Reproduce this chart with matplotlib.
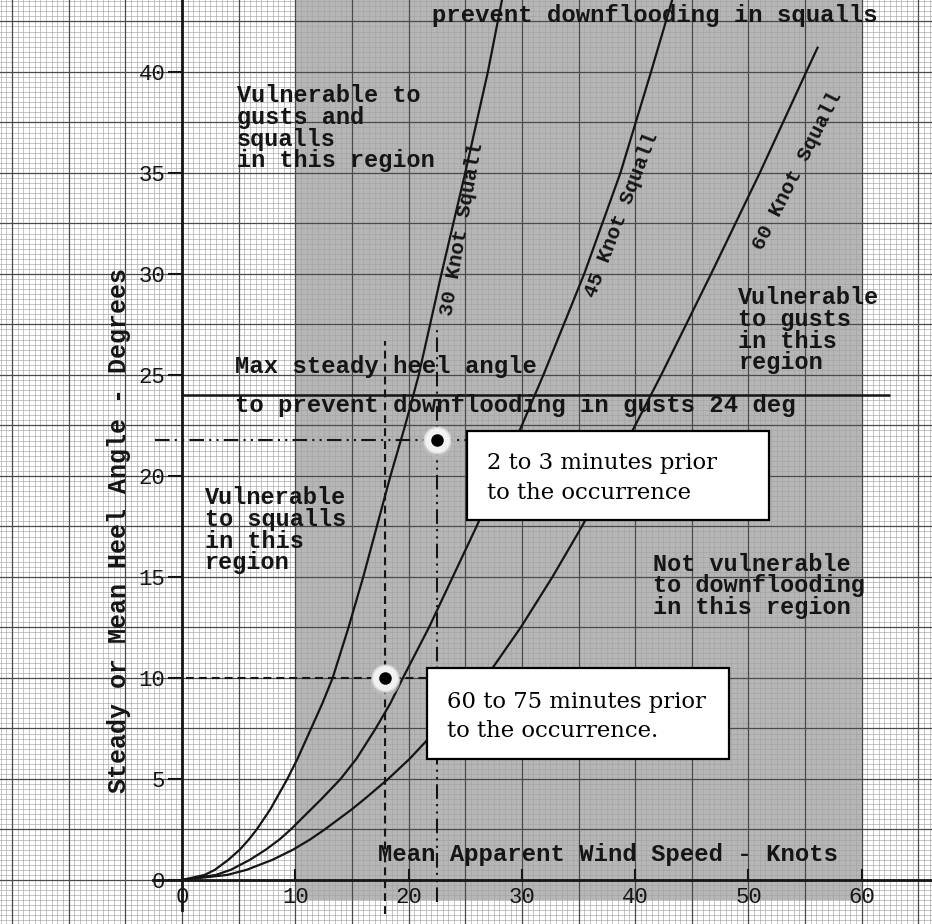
import matplotlib
matplotlib.use("Agg")
import matplotlib.pyplot as plt
import numpy as np
from matplotlib.patches import Rectangle

# ---------------- data ----------------
heel_30 = [0, 0.25, 0.5, 1, 1.5, 2, 2.5, 3, 3.5, 4, 5, 6, 7.5, 8.75, 10, 12.5, 15, 17.5,
           20, 22.5, 25, 30, 35, 40, 44]
wind_30 = [0, 2.0, 2.9, 4.1, 5.1, 5.9, 6.6, 7.2, 7.8, 8.3, 9.3, 10.2, 11.4, 12.4, 13.3, 14.7, 16.0, 17.2,
           18.4, 19.7, 20.9, 22.9, 25.0, 27.0, 28.4]

heel_45 = [0, 0.25, 0.5, 1, 1.5, 2, 2.5, 3, 3.5, 4, 5, 6, 7.5, 8.75, 10, 12.5, 15, 17.5,
           20, 22.5, 25, 30, 35, 40, 44]
wind_45 = [0, 3.0, 4.3, 6.0, 7.4, 8.6, 9.6, 10.5, 11.4, 12.3, 14.0, 15.4, 17.1, 18.4, 19.5, 21.8, 23.9, 26.0,
           28.0, 30.0, 31.9, 35.5, 38.7, 41.4, 43.5]

heel_60 = [0, 0.25, 0.5, 1, 1.5, 2, 2.5, 3, 3.5, 4, 5, 6, 7.5, 8.75, 10, 12.5, 15, 17.5,
           20, 22.5, 25, 30, 35, 40, 41.2]
wind_60 = [0, 4.0, 5.7, 8.0, 9.8, 11.3, 12.6, 13.8, 15.0, 16.1, 18.2, 20.1, 22.6, 24.8, 26.8, 29.9, 32.7, 35.3,
           37.7, 40.0, 42.3, 46.7, 51.0, 55.1, 56.1]

gust_limit_heel = 24          # max steady heel angle (gusts)
gust_limit_end = 62.5

event_late_wind, event_late_heel = 22.5, 21.8     # 2-3 minutes prior
event_early_wind, event_early_heel = 17.9, 10.0   # 60-75 minutes prior

wind_ticks = [0, 10, 20, 30, 40, 50, 60]
heel_ticks = [0, 5, 10, 15, 20, 25, 30, 35, 40]

mono = "Liberation Mono"
serif = "DejaVu Serif"
ink = "#151515"

fig = plt.figure(figsize=(9.32, 9.24), dpi=100)
ax = fig.add_axes([0, 0, 1, 1])
ax.set_xlim(-16.06, 66.2)
ax.set_ylim(-2.18, 43.56)

# ---------------- graph paper background ----------------
ax.add_patch(Rectangle((10, -1.0), 50, 45, facecolor="#b6b6b6", edgecolor="none", zorder=0))
for xv in np.arange(-16, 66.5, 0.5):
    ax.axvline(xv, color="#a4a4a4", lw=0.45, zorder=0.5)
for yv in np.arange(-2, 43.75, 0.25):
    ax.axhline(yv, color="#a4a4a4", lw=0.45, zorder=0.5)
for xv in np.arange(-15, 66, 5):
    ax.axvline(xv, color="#4a4a4a", lw=0.9, zorder=0.6)
for yv in np.arange(-2.5, 44, 2.5):
    ax.axhline(yv, color="#4a4a4a", lw=0.9, zorder=0.6)

# ---------------- axes ----------------
for s in ["top", "right"]:
    ax.spines[s].set_visible(False)
ax.spines["left"].set_position(("data", 0))
ax.spines["bottom"].set_position(("data", 0))
ax.spines["left"].set_bounds(-1.5, 43.56)
ax.spines["bottom"].set_bounds(-2.6, 66.2)
for s in ["left", "bottom"]:
    ax.spines[s].set_linewidth(2.0)
    ax.spines[s].set_color(ink)
    ax.spines[s].set_zorder(3)

ax.set_xticks(wind_ticks)
ax.set_yticks(heel_ticks)
ax.set_xticklabels([str(t) for t in wind_ticks], fontfamily=mono, fontsize=16, color=ink)
ax.set_yticklabels([str(t) for t in heel_ticks], fontfamily=mono, fontsize=16, color=ink)
ax.tick_params(axis="y", direction="out", length=10, width=1.5, pad=2, colors=ink)
ax.tick_params(axis="x", direction="in", length=8, width=1.5, pad=5, colors=ink)

# ---------------- squall curves ----------------
ax.plot(wind_30, heel_30, color=ink, lw=1.6, zorder=4)
ax.plot(wind_45, heel_45, color=ink, lw=1.6, zorder=4)
ax.plot(wind_60, heel_60, color=ink, lw=1.6, zorder=4)

# gust limit line
ax.hlines(gust_limit_heel, 0, gust_limit_end, color=ink, lw=1.8, zorder=4)

# ---------------- event guide lines ----------------
ddd = (0, (7, 2.5, 1, 2.5, 1, 2.5))
ax.hlines(event_late_heel, -2.4, 25.2, color=ink, lw=1.5, linestyles=[ddd], zorder=4)
ax.vlines(event_late_wind, -1.1, 27.3, color=ink, lw=1.5, linestyles=[ddd], zorder=4)
ax.hlines(event_early_heel, -0.8, 21.6, color=ink, lw=1.5, linestyles=[(0, (3.8, 2.4))], zorder=4)
ax.vlines(event_early_wind, -1.7, 26.7, color=ink, lw=1.5, linestyles=[(0, (3.8, 2.4))], zorder=4)

for wx, hy in [(event_late_wind, event_late_heel), (event_early_wind, event_early_heel)]:
    ax.plot(wx, hy - 0.15, "o", ms=21, mfc="#bdbdbd", mec="none", alpha=0.6, zorder=5)
    ax.plot(wx, hy, "o", ms=19, mfc="#f2f2f2", mec="#d6d6d6", mew=1.2, zorder=5.5)
    ax.plot(wx, hy, "o", ms=8, color="black", zorder=6)

# ---------------- annotation boxes ----------------
ax.add_patch(Rectangle((25.2, 17.8), 26.6, 4.4, facecolor="white", edgecolor="black", lw=1.6, zorder=7))
ax.text(26.9, 19.9, "2 to 3 minutes prior\nto the occurrence", fontfamily=serif, fontsize=16.4,
        va="center", ha="left", linespacing=1.42, color="black", zorder=8)
ax.add_patch(Rectangle((21.6, 6.0), 26.7, 4.5, facecolor="white", edgecolor="black", lw=1.6, zorder=7))
ax.text(23.4, 8.1, "60 to 75 minutes prior\nto the occurrence.", fontfamily=serif, fontsize=16.4,
        va="center", ha="left", linespacing=1.42, color="black", zorder=8)

# ---------------- typewriter labels ----------------
tw = dict(fontfamily=mono, fontsize=17.2, fontweight="bold", color=ink, zorder=6)
rg = dict(tw, fontsize=16.9)
ax.text(4.85, 39.4, "Vulnerable to\ngusts and\nsqualls\nin this region", va="top", ha="left",
        linespacing=0.93, **rg)
ax.text(2.0, 19.5, "Vulnerable\nto squalls\nin this\nregion", va="top", ha="left", linespacing=0.93, **rg)
ax.text(49.1, 29.4, "Vulnerable\nto gusts\nin this\nregion", va="top", ha="left", linespacing=0.93, **rg)
ax.text(41.6, 16.2, "Not vulnerable\nto downflooding\nin this region", va="top", ha="left",
        linespacing=0.93, **rg)
ax.text(4.7, 25.4, "Max steady heel angle", va="center", ha="left", **tw)
ax.text(4.7, 23.5, "to prevent downflooding in gusts 24 deg", va="center", ha="left", **tw)
ax.text(22.1, 42.8, "prevent downflooding in squalls", va="center", ha="left", **tw)
ax.text(17.3, 1.25, "Mean Apparent Wind Speed - Knots", va="center", ha="left", **tw)
ax.text(-5.6, 17.3, "Steady or Mean Heel Angle - Degrees", va="center", ha="center", rotation=90,
        **dict(tw, fontsize=18))

cl = dict(fontfamily=mono, fontsize=15, fontweight="bold", color=ink, zorder=6, ha="center", va="center")
ax.text(24.7, 32.2, "30 Knot Squall", rotation=80, **cl)
ax.text(38.8, 32.9, "45 Knot Squall", rotation=69, **cl)
ax.text(54.3, 35.1, "60 Knot Squall", rotation=63, **cl)

fig.savefig("out.png", dpi=100)
